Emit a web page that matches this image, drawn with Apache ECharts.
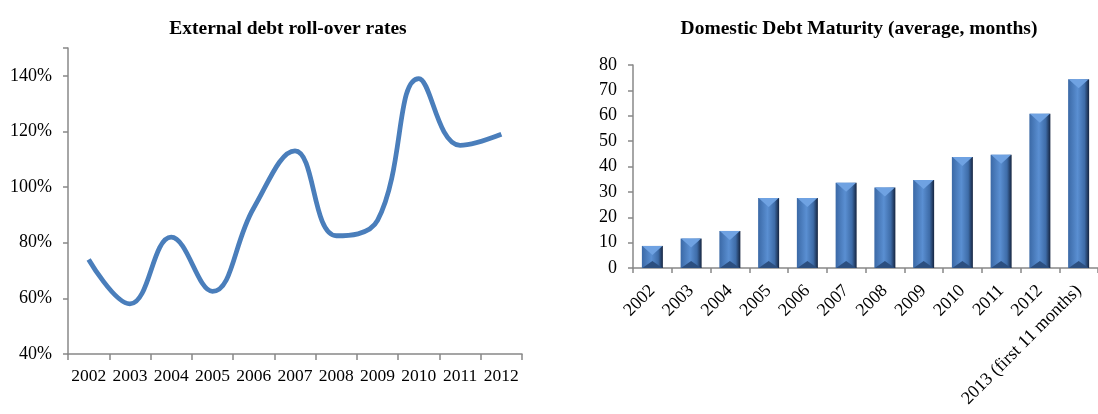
<!DOCTYPE html>
<html><head><meta charset="utf-8">
<script src="https://cdn.jsdelivr.net/npm/echarts@6/dist/echarts.min.js"></script>
<style>html,body{margin:0;padding:0;background:#fff}#c{width:1098px;height:414px}</style>
</head><body><div id="c"></div>
<script>
const rollYears = ['2002','2003','2004','2005','2006','2007','2008','2009','2010','2011','2012'];
const rollRates = [74, 58, 82, 62.5, 92.5, 113, 82.5, 88, 139, 115, 119];
const matYears = ['2002','2003','2004','2005','2006','2007','2008','2009','2010','2011','2012','2013 (first 11 months)'];
const matMonths = [8.7, 11.6, 14.6, 27.6, 27.6, 33.6, 31.7, 34.7, 43.7, 44.6, 60.8, 74.4];
const rollTicks = [40, 60, 80, 100, 120, 140];
const matTicks = [0, 10, 20, 30, 40, 50, 60, 70, 80];

const F = 'Liberation Serif';
const axisCol = '#888888';
const chart = echarts.init(document.getElementById('c'));
const barGrad = new echarts.graphic.LinearGradient(0, 0, 1, 0, [
  {offset: 0, color: '#3b69a6'},
  {offset: 0.45, color: '#5a8fd2'},
  {offset: 0.78, color: '#3e6ca8'},
  {offset: 1, color: '#15243f'}
]);
chart.setOption({
  animation: false,
  title: [
    {text: 'External debt roll-over rates', left: 283, top: 14, textAlign: 'center',
     textStyle: {fontFamily: F, fontWeight: 'bold', fontSize: 19.5, color: '#000'}},
    {text: 'Domestic Debt Maturity (average, months)', left: 854, top: 14, textAlign: 'center',
     textStyle: {fontFamily: F, fontWeight: 'bold', fontSize: 19.5, color: '#000'}}
  ],
  grid: [
    {left: 68, right: 576, top: 48, bottom: 60},
    {left: 633, right: -3, top: 65, bottom: 146}
  ],
  xAxis: [
    {gridIndex: 0, type: 'category', data: rollYears, boundaryGap: true,
     axisLine: {lineStyle: {color: axisCol, width: 1.5}},
     axisTick: {show: true, length: 6, lineStyle: {color: axisCol, width: 1.5}},
     axisLabel: {fontFamily: F, fontSize: 17.5, color: '#000', margin: 13, interval: 0}},
    {gridIndex: 1, type: 'category', data: matYears, boundaryGap: true,
     axisLine: {lineStyle: {color: axisCol, width: 1.5}},
     axisTick: {show: true, length: 5, lineStyle: {color: axisCol, width: 1.5}},
     axisLabel: {fontFamily: F, fontSize: 18, color: '#000', margin: 20, rotate: 45, interval: 0}}
  ],
  yAxis: [
    {gridIndex: 0, type: 'value', min: 40, max: 150, interval: 20,
     axisLine: {show: true, lineStyle: {color: axisCol, width: 1.5}},
     axisTick: {show: true, length: 5, lineStyle: {color: axisCol, width: 1.5}},
     splitLine: {show: false},
     axisLabel: {fontFamily: F, fontSize: 18, color: '#000', margin: 16,
       formatter: v => rollTicks.includes(v) ? v + '%' : ''}},
    {gridIndex: 1, type: 'value', min: 0, max: 80, interval: 10,
     axisLine: {show: true, lineStyle: {color: axisCol, width: 1.5}},
     axisTick: {show: true, length: 5, lineStyle: {color: axisCol, width: 1.5}},
     splitLine: {show: false},
     axisLabel: {fontFamily: F, fontSize: 18, color: '#000', margin: 16,
       formatter: v => matTicks.includes(v) ? String(v) : ''}}
  ],
  series: [
    {type: 'line', xAxisIndex: 0, yAxisIndex: 0, data: rollRates, smooth: 0.42,
     showSymbol: false, lineStyle: {color: '#4a7ebb', width: 4.8}, itemStyle: {color: '#4a7ebb'}},
    {type: 'bar', xAxisIndex: 1, yAxisIndex: 1, data: matMonths, barWidth: 21,
     itemStyle: {color: barGrad}},
    {type: 'pictorialBar', xAxisIndex: 1, yAxisIndex: 1, data: matMonths, symbol: 'triangle',
     symbolRotate: 180, symbolSize: [20, 9], symbolPosition: 'end', barGap: '-100%', z: 3,
     itemStyle: {color: '#6fa2e2'}},
    {type: 'pictorialBar', xAxisIndex: 1, yAxisIndex: 1, data: matMonths, symbol: 'triangle',
     symbolSize: [20, 7], symbolPosition: 'start', barGap: '-100%', z: 3,
     itemStyle: {color: '#2c4f80'}}
  ]
});
</script></body></html>
